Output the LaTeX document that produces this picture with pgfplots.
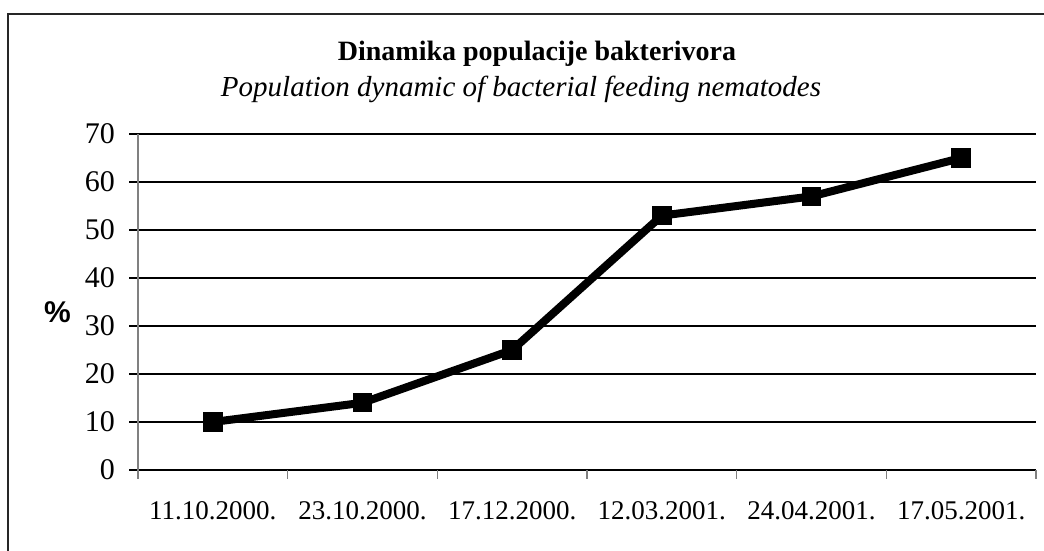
\documentclass[border=0pt]{standalone}
\usepackage{fontspec}
\setmainfont{Liberation Serif}
\setsansfont{Liberation Sans}
\usepackage{pgfplots}
\pgfplotsset{compat=1.18}
\begin{document}
\begin{tikzpicture}[x=0.5pt,y=0.5pt]
\useasboundingbox (0,0) rectangle (1044,551);
\draw[line width=1.1pt, black!85] (8,-20) -- (8,537) -- (1070,537);
\node[font=\fontsize{14}{16}\selectfont\bfseries, anchor=base] at (537,551-61) {Dinamika populacije bakterivora};
\node[font=\fontsize{14.5}{17}\selectfont\itshape, anchor=base] at (521,551-97) {Population dynamic of bacterial feeding nematodes};
\node[font=\fontsize{15}{17}\selectfont\sffamily\bfseries] at (57.5,551-312) {\%};
\begin{axis}[
  at={(69pt,40.5pt)}, anchor=south west,
  width=449pt, height=168pt, scale only axis,
  xmin=0, xmax=6, ymin=0, ymax=70,
  axis x line=bottom, axis y line=left,
  axis line style={-},
  y axis line style={draw=gray, line width=0.8pt},
  x axis line style={draw=black, line width=0.7pt},
  ytick={0,10,...,70},
  ymajorgrids, major grid style={black, line width=0.6pt},
  tick align=outside, major tick length=4.5pt,
  ytick style={draw=black, line width=0.6pt},
  xtick={0.5,1.5,...,5.5},
  xticklabels={11.10.2000.,23.10.2000.,17.12.2000.,12.03.2001.,24.04.2001.,17.05.2001.},
  xtick style={draw=none},
  extra x ticks={0,1,2,3,4,5,6},
  extra x tick labels={},
  extra x tick style={xtick style={draw=gray, line width=0.8pt}},
  /pgf/number format/assume math mode=true,
  xticklabel style={font=\fontsize{13.5}{15}\selectfont, yshift=-7.5pt},
  yticklabel style={font=\fontsize{15}{17}\selectfont, xshift=-3.5pt},
  clip=false,
]
\addplot[black, line width=4pt, mark=square*, mark size=4.6pt, mark options={solid, line width=0.5pt}]
  coordinates {(0.5,10)(1.5,14)(2.5,25)(3.5,53)(4.5,57)(5.5,65)};
\end{axis}
\end{tikzpicture}
\end{document}
